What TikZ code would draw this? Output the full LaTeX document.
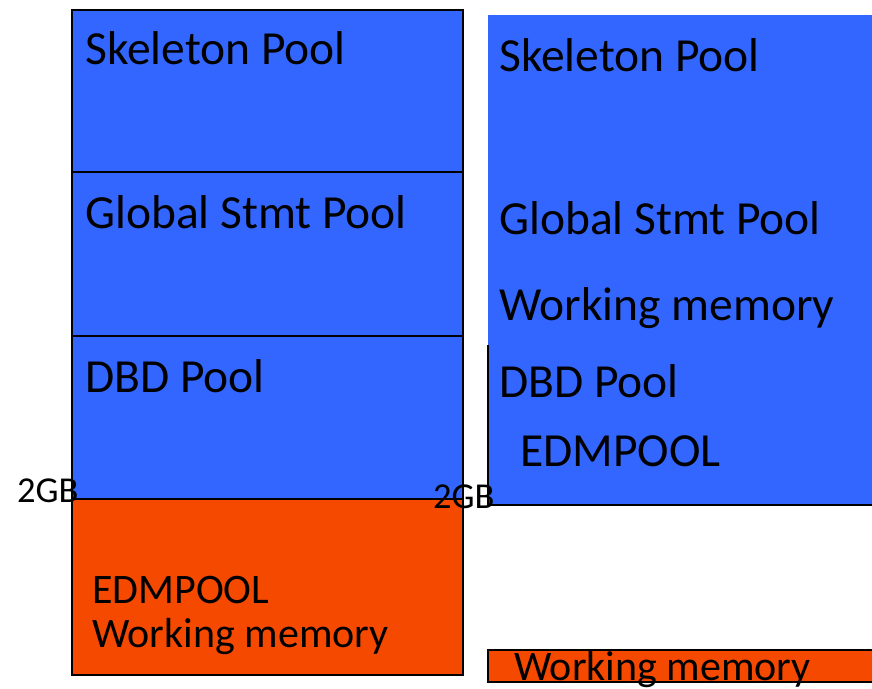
\documentclass[tikz,border=0pt]{standalone}
\usepackage{fontspec}
\setmainfont{Carlito}
\definecolor{poolblue}{RGB}{51,102,255}
\definecolor{poolorange}{RGB}{245,73,0}
\tikzset{
  lbl/.style={anchor=base west, inner sep=0pt, font=\fontsize{47.5}{50}\selectfont},
  lblsmall/.style={anchor=base west, inner sep=0pt, font=\fontsize{42}{45}\selectfont},
  gb/.style={anchor=base west, inner sep=0pt, font=\fontsize{36.5}{40}\selectfont},
  border/.style={draw=black, line width=2pt},
}
\begin{document}
\begin{tikzpicture}[x=1pt,y=-1pt]
\useasboundingbox (0,0) rectangle (872,688);
% left column
\fill[poolblue] (72,10) rectangle (463,499);
\fill[poolorange] (72,499) rectangle (463,675);
\draw[border] (72,10) rectangle (463,172);
\draw[border] (72,172) rectangle (463,336);
\draw[border] (72,336) rectangle (463,499);
\draw[border] (72,499) rectangle (463,675);
% right column
\fill[poolblue] (488,15) rectangle (873,505);
\draw[border] (488,345) -- (488,505) -- (873,505);
\draw[border, fill=poolorange] (488,650) rectangle (874,682);
% left texts
\node[lbl] (ls) at (85,64) {Skeleton Pool};
\node[lbl] (lg) at (85,228) {Global Stmt Pool};
\node[lbl] (ld) at (85,392) {DBD Pool};
\node[lblsmall] (le) at (92,603) {EDMPOOL};
\node[lblsmall] (lw) at (92,647) {Working memory};
% right texts
\node[lbl] (rs) at (499,71) {Skeleton Pool};
\node[lbl] (rg) at (499,234) {Global Stmt Pool};
\node[lbl] (rw) at (499,320) {Working memory};
\node[lbl] (rd) at (499,397) {DBD Pool};
\node[lbl] (re) at (520,466) {EDMPOOL};
\node[lblsmall] (rb) at (514,680) {Working memory};
% 2GB labels
\node[gb] (g1) at (17,502) {2GB};
\node[gb] (g2) at (433,508) {2GB};
\end{tikzpicture}
\end{document}
